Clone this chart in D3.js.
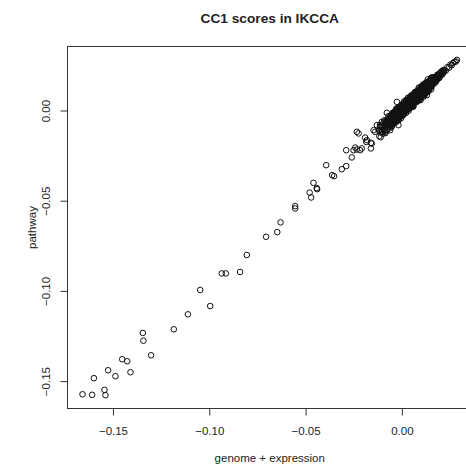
<!DOCTYPE html>
<html>
<head>
<meta charset="utf-8">
<script src="https://cdn.jsdelivr.net/npm/d3@7"></script>
<style>
  html, body { margin: 0; padding: 0; background: #fff; }
  svg { display: block; }
  text { font-family: "Liberation Sans", Arial, Helvetica, sans-serif; fill: #222; }
</style>
</head>
<body>
<svg id="chart" width="466" height="466"></svg>
<script>
// ---- Data ----
const chartTitle = "CC1 scores in IKCCA";
const xLabel = "genome + expression";
const yLabel = "pathway";
const xTicks = [-0.15, -0.10, -0.05, 0.00];
const yTicks = [-0.15, -0.10, -0.05, 0.00];

// sparse tail of the scatter
const tailX = [-0.1658,-0.1608,-0.1544,-0.1539,-0.1599,-0.1525,-0.1487,-0.1452,-0.1426,-0.1409,
  -0.1345,-0.1342,-0.1302,-0.1184,-0.1111,-0.1047,-0.0995,-0.0935,-0.0914,-0.0840,-0.0805,
  -0.0705,-0.0647,-0.0630,-0.0554,-0.0554,-0.0479,-0.0471,-0.0459,-0.0442,-0.0440,
  -0.0393,-0.0362,-0.0352,-0.0312,-0.0289,-0.0289,-0.0260,-0.0251,-0.0234,-0.0217,-0.0208,
  -0.0225,-0.0191,-0.0185,-0.0161,-0.0161,-0.0156,-0.0234,-0.0139,-0.0130,-0.0113,-0.0052,
  -0.0018,-0.0026,-0.0078,-0.0242,-0.0182,-0.0147,-0.0087,-0.0061,0.0130];
const tailY = [-0.1573,-0.1576,-0.1549,-0.1578,-0.1484,-0.1440,-0.1473,-0.1379,-0.1390,-0.1451,
  -0.1233,-0.1276,-0.1357,-0.1213,-0.1130,-0.0995,-0.1084,-0.0903,-0.0903,-0.0895,-0.0801,
  -0.0700,-0.0674,-0.0620,-0.0543,-0.0530,-0.0455,-0.0482,-0.0401,-0.0430,-0.0436,
  -0.0303,-0.0358,-0.0364,-0.0325,-0.0308,-0.0220,-0.0260,-0.0220,-0.0216,-0.0220,-0.0210,
  -0.0127,-0.0150,-0.0174,-0.0210,-0.0179,-0.0183,-0.0118,-0.0118,-0.0081,-0.0091,-0.0087,
  -0.0081,0.0048,-0.0013,-0.0205,-0.0164,-0.0109,-0.0118,-0.0109,0.0085];

// dense core of the scatter, first pass
const coreX1 = [
  -0.0120,-0.0117,-0.0117,-0.0114,-0.0111,-0.0110,-0.0109,-0.0105,-0.0104,-0.0103,
  -0.0099,-0.0098,-0.0096,-0.0095,-0.0091,-0.0091,-0.0088,-0.0085,-0.0085,-0.0082,
  -0.0081,-0.0077,-0.0076,-0.0073,-0.0073,-0.0070,-0.0067,-0.0066,-0.0065,-0.0061,
  -0.0060,-0.0059,-0.0055,-0.0054,-0.0052,-0.0049,-0.0049,-0.0046,-0.0043,-0.0043,
  -0.0039,-0.0039,-0.0036,-0.0033,-0.0032,-0.0031,-0.0027,-0.0027,-0.0024,-0.0022,
  -0.0021,-0.0018,-0.0015,-0.0015,-0.0011,-0.0010,-0.0008,-0.0005,-0.0005,-0.0001,
  0.0000,0.0003,0.0003,0.0007,0.0008,0.0009,0.0012,0.0013,0.0017,0.0018,
  0.0021,0.0022,0.0023,0.0026,0.0029,0.0031,0.0031,0.0034,0.0036,0.0037,
  0.0039,0.0043,0.0044,0.0045,0.0048,0.0051,0.0052,0.0055,0.0055,0.0058,
  0.0060,0.0061,0.0065,0.0067,0.0067,0.0070,0.0073,0.0073,0.0076,0.0079,
  0.0081,0.0082,0.0084,0.0085,0.0088,0.0091,0.0091,0.0095,0.0096,0.0097,
  0.0099,0.0103,0.0103,0.0106,0.0109,0.0110,0.0112,0.0113,0.0117,0.0118,
  0.0120,0.0122,0.0125,0.0125,0.0129,0.0129,0.0133,0.0134,0.0135,0.0139,
  0.0141,0.0141,0.0144,0.0146,0.0147,0.0151,0.0152,0.0155,0.0156,0.0157,
  0.0160,0.0163,0.0163,0.0166,0.0169,0.0169,0.0172,0.0175,0.0175,0.0178,
  0.0179,0.0182,0.0185,0.0185,0.0188,0.0191,0.0191,0.0194,0.0197,0.0198,
  0.0201,0.0201,0.0204,0.0207,0.0207,0.0210,0.0213,0.0213,0.0216,0.0219,0.0220];
const coreY1 = [
  -0.0108,-0.0143,-0.0111,-0.0081,-0.0120,-0.0148,-0.0088,-0.0109,-0.0063,-0.0119,
  -0.0091,-0.0128,-0.0069,-0.0106,-0.0090,-0.0054,-0.0110,-0.0071,-0.0125,-0.0075,
  -0.0085,-0.0054,-0.0109,-0.0056,-0.0082,-0.0031,-0.0069,-0.0093,-0.0053,-0.0032,
  -0.0079,-0.0054,-0.0092,-0.0032,-0.0059,-0.0036,-0.0072,-0.0014,-0.0058,-0.0042,
  -0.0012,-0.0069,-0.0028,-0.0015,-0.0053,0.0007,-0.0039,-0.0030,0.0001,-0.0057,
  -0.0004,-0.0027,0.0018,-0.0013,-0.0038,0.0000,-0.0024,0.0023,-0.0043,0.0004,
  0.0021,-0.0011,0.0007,-0.0023,0.0043,0.0004,0.0025,-0.0006,0.0042,0.0016,
  -0.0014,0.0039,0.0055,0.0011,0.0036,0.0007,0.0070,0.0024,0.0040,0.0010,
  0.0063,0.0041,0.0026,0.0079,0.0059,0.0018,0.0067,0.0047,0.0083,0.0021,
  0.0062,0.0082,0.0052,0.0102,0.0043,0.0079,0.0069,0.0104,0.0057,0.0092,
  0.0050,0.0106,0.0090,0.0072,0.0127,0.0068,0.0092,0.0112,0.0087,0.0058,
  0.0128,0.0112,0.0078,0.0118,0.0103,0.0144,0.0095,0.0117,0.0141,0.0085,
  0.0136,0.0114,0.0155,0.0105,0.0135,0.0128,0.0154,0.0105,0.0173,0.0127,
  0.0145,0.0118,0.0163,0.0147,0.0132,0.0179,0.0117,0.0167,0.0150,0.0184,
  0.0148,0.0167,0.0184,0.0149,0.0177,0.0167,0.0164,0.0187,0.0157,0.0180,
  0.0187,0.0170,0.0199,0.0181,0.0198,0.0182,0.0196,0.0180,0.0207,0.0194,
  0.0206,0.0193,0.0216,0.0203,0.0216,0.0200,0.0217,0.0208,0.0225,0.0216,0.0223];

// dense core, second pass (centre of the cloud)
const coreX2 = [
  -0.0058,-0.0057,-0.0056,-0.0053,-0.0051,-0.0048,-0.0047,-0.0046,-0.0042,-0.0041,
  -0.0039,-0.0038,-0.0035,-0.0032,-0.0032,-0.0029,-0.0026,-0.0025,-0.0023,-0.0022,
  -0.0018,-0.0017,-0.0015,-0.0014,-0.0010,-0.0010,-0.0007,-0.0004,-0.0003,-0.0002,
  0.0000,0.0004,0.0005,0.0007,0.0010,0.0010,0.0013,0.0014,0.0018,0.0019,
  0.0021,0.0023,0.0026,0.0026,0.0029,0.0032,0.0032,0.0035,0.0038,0.0038,
  0.0042,0.0042,0.0045,0.0047,0.0050,0.0051,0.0052,0.0056,0.0056,0.0059,
  0.0060,0.0063,0.0066,0.0067,0.0068,0.0072,0.0073,0.0075,0.0076,0.0080,
  0.0081,0.0084,0.0084,0.0088,0.0089,0.0090,0.0093,0.0096,0.0097,0.0098,
  0.0102,0.0103,0.0105,0.0106,0.0110,0.0111,0.0112,0.0115,0.0118,0.0118,
  0.0120,0.0124,0.0125,0.0127,0.0128,0.0132,0.0133,0.0134,0.0137,0.0140,
  0.0141,0.0142,0.0146,0.0147,0.0149,0.0150,0.0154,0.0155,0.0156,0.0159,0.0162];
const coreY2 = [
  -0.0074,-0.0030,-0.0093,-0.0047,-0.0032,-0.0076,-0.0012,-0.0054,-0.0043,-0.0062,
  -0.0008,-0.0043,-0.0022,-0.0066,-0.0007,-0.0045,-0.0023,0.0013,-0.0051,-0.0010,
  -0.0021,0.0003,-0.0052,0.0016,-0.0022,-0.0002,-0.0031,0.0011,0.0031,-0.0020,
  0.0010,-0.0028,0.0030,0.0003,0.0023,-0.0009,0.0052,0.0002,0.0019,0.0041,
  -0.0005,0.0035,0.0018,0.0060,0.0011,0.0036,0.0060,-0.0001,0.0054,0.0038,
  0.0027,0.0073,0.0053,0.0024,0.0085,0.0041,0.0071,0.0025,0.0060,0.0083,
  0.0023,0.0073,0.0086,0.0061,0.0052,0.0103,0.0046,0.0089,0.0078,0.0067,
  0.0109,0.0062,0.0091,0.0124,0.0081,0.0106,0.0061,0.0115,0.0094,0.0110,
  0.0076,0.0136,0.0093,0.0111,0.0132,0.0076,0.0126,0.0114,0.0147,0.0101,
  0.0129,0.0095,0.0144,0.0118,0.0155,0.0127,0.0144,0.0115,0.0153,0.0141,
  0.0127,0.0164,0.0139,0.0156,0.0127,0.0165,0.0153,0.0144,0.0174,0.0154,0.0168];

// dense core, third pass
const coreX3 = [
  -0.0090,-0.0088,-0.0085,-0.0083,-0.0080,-0.0078,-0.0075,-0.0072,-0.0070,-0.0067,
  -0.0065,-0.0062,-0.0060,-0.0057,-0.0055,-0.0052,-0.0050,-0.0047,-0.0045,-0.0042,
  -0.0040,-0.0037,-0.0035,-0.0032,-0.0030,-0.0027,-0.0025,-0.0022,-0.0020,-0.0017,
  -0.0015,-0.0012,-0.0010,-0.0007,-0.0005,-0.0002,0.0000,0.0003,0.0005,0.0008,
  0.0010,0.0013,0.0015,0.0018,0.0020,0.0023,0.0025,0.0028,0.0030,0.0033,
  0.0035,0.0038,0.0040,0.0043,0.0045,0.0048,0.0050,0.0053,0.0055,0.0058,
  0.0060,0.0063,0.0065,0.0068,0.0070,0.0073,0.0075,0.0078,0.0080,0.0083,
  0.0085,0.0088,0.0090,0.0093,0.0095,0.0098,0.0100,0.0103,0.0105,0.0108,
  0.0110,0.0113,0.0115,0.0118,0.0120,0.0123,0.0125,0.0128,0.0130,0.0133,
  0.0135,0.0138,0.0140,0.0143,0.0145,0.0148,0.0150,0.0153,0.0155,0.0158,
  0.0160,0.0163,0.0165,0.0168,0.0170,0.0173,0.0175,0.0178,0.0180,0.0183,
  0.0185,0.0188,0.0190];
const coreY3 = [
  -0.0110,-0.0074,-0.0088,-0.0056,-0.0108,-0.0072,-0.0056,-0.0084,-0.0046,-0.0074,
  -0.0063,-0.0087,-0.0049,-0.0028,-0.0071,-0.0053,-0.0028,-0.0076,-0.0037,-0.0025,
  -0.0050,-0.0011,-0.0057,-0.0028,-0.0017,-0.0054,0.0005,-0.0027,-0.0038,-0.0008,
  0.0006,-0.0026,-0.0010,0.0018,-0.0029,0.0013,-0.0008,0.0031,-0.0014,0.0013,
  -0.0020,0.0031,0.0022,0.0007,0.0043,0.0021,-0.0001,0.0040,0.0050,0.0018,
  0.0038,0.0065,0.0019,0.0053,0.0039,0.0064,0.0022,0.0077,0.0046,0.0059,
  0.0089,0.0046,0.0071,0.0045,0.0084,0.0094,0.0071,0.0065,0.0106,0.0058,
  0.0096,0.0087,0.0108,0.0064,0.0103,0.0123,0.0088,0.0105,0.0085,0.0130,
  0.0103,0.0129,0.0089,0.0146,0.0124,0.0108,0.0138,0.0125,0.0149,0.0111,
  0.0144,0.0108,0.0163,0.0133,0.0162,0.0148,0.0132,0.0180,0.0149,0.0170,
  0.0148,0.0173,0.0168,0.0161,0.0185,0.0169,0.0183,0.0164,0.0185,0.0185,
  0.0179,0.0199,0.0187];

// dense core, fourth pass
const coreX4 = [
  -0.0069,-0.0066,-0.0063,-0.0061,-0.0058,-0.0056,-0.0053,-0.0051,-0.0048,-0.0046,
  -0.0043,-0.0041,-0.0038,-0.0036,-0.0033,-0.0031,-0.0028,-0.0026,-0.0023,-0.0021,
  -0.0018,-0.0016,-0.0013,-0.0011,-0.0008,-0.0006,-0.0003,-0.0001,0.0002,0.0004,
  0.0007,0.0009,0.0012,0.0014,0.0017,0.0019,0.0022,0.0024,0.0027,0.0029,
  0.0032,0.0034,0.0037,0.0039,0.0042,0.0044,0.0047,0.0049,0.0052,0.0054,
  0.0057,0.0059,0.0062,0.0064,0.0067,0.0069,0.0072,0.0074,0.0077,0.0079,
  0.0082,0.0084,0.0087,0.0089,0.0092,0.0094,0.0097,0.0099,0.0102,0.0104,
  0.0107,0.0109,0.0112,0.0114,0.0117,0.0119,0.0122,0.0124,0.0127,0.0129,
  0.0132,0.0134,0.0137,0.0139,0.0142,0.0144,0.0147,0.0149,0.0152,0.0154];
const coreY4 = [
  -0.0061,-0.0085,-0.0040,-0.0065,-0.0082,-0.0043,-0.0052,-0.0033,-0.0059,-0.0021,
  -0.0058,-0.0035,-0.0060,-0.0020,-0.0035,-0.0011,-0.0037,-0.0051,-0.0012,-0.0017,
  0.0004,-0.0029,-0.0018,0.0013,-0.0026,0.0003,0.0011,-0.0022,0.0004,0.0023,
  0.0000,-0.0014,0.0029,0.0019,0.0003,0.0044,0.0021,0.0014,0.0048,0.0012,
  0.0044,0.0034,0.0017,0.0054,0.0034,0.0068,0.0021,0.0056,0.0070,0.0051,
  0.0045,0.0082,0.0065,0.0045,0.0077,0.0064,0.0092,0.0059,0.0053,0.0093,
  0.0083,0.0101,0.0077,0.0114,0.0070,0.0100,0.0093,0.0118,0.0086,0.0113,
  0.0131,0.0103,0.0094,0.0125,0.0120,0.0094,0.0138,0.0115,0.0148,0.0128,
  0.0118,0.0142,0.0159,0.0119,0.0155,0.0141,0.0136,0.0167,0.0152,0.0131];

// upper tip of the cloud
const tipX = [0.0228,0.0236,0.0245,0.0252,0.0259,0.0266,0.0273,0.0281,0.0286];
const tipY = [0.0221,0.0240,0.0238,0.0255,0.0251,0.0264,0.0270,0.0272,0.0281];

// ---- Build point table ----
function pairs(xs, ys) { return xs.map((v, i) => ({ x: v, y: ys[i] })); }
const points = [].concat(
  pairs(tailX, tailY), pairs(coreX1, coreY1), pairs(coreX2, coreY2),
  pairs(coreX3, coreY3), pairs(coreX4, coreY4), pairs(tipX, tipY));

// ---- Layout ----
const svg = d3.select("#chart");
const plot = { left: 67.5, right: 472, top: 46.5, bottom: 408.5 };

const x = d3.scaleLinear().domain([-0.1736, 0.0364]).range([plot.left, plot.right]);
const y = d3.scaleLinear().domain([-0.1652, 0.0355]).range([plot.bottom, plot.top]);

svg.append("rect").attr("width", 466).attr("height", 466).attr("fill", "#fff");

// points
svg.append("g")
  .selectAll("circle")
  .data(points)
  .join("circle")
  .attr("cx", d => x(d.x))
  .attr("cy", d => y(d.y))
  .attr("r", 2.8)
  .attr("fill", "none")
  .attr("stroke", "#111")
  .attr("stroke-width", 1);

// box
svg.append("rect")
  .attr("x", plot.left).attr("y", plot.top)
  .attr("width", plot.right - plot.left).attr("height", plot.bottom - plot.top)
  .attr("fill", "none").attr("stroke", "#333").attr("stroke-width", 1);

const fmt = d3.format(".2f");

// x axis
const gx = svg.append("g")
  .attr("transform", `translate(0,${plot.bottom})`)
  .attr("color", "#333")
  .call(d3.axisBottom(x).tickValues(xTicks).tickFormat(fmt).tickSize(7).tickPadding(11.2));
gx.select(".domain").remove();
gx.selectAll(".tick text").attr("font-size", "11.5px").attr("fill", "#222")
  .style("font-family", "'Liberation Sans', Arial, sans-serif");

// y axis
const gy = svg.append("g")
  .attr("transform", `translate(${plot.left},0)`)
  .attr("color", "#333")
  .call(d3.axisLeft(y).tickValues(yTicks).tickFormat(fmt).tickSize(7));
gy.select(".domain").remove();
gy.selectAll(".tick text")
  .attr("x", null).attr("dy", null)
  .attr("text-anchor", "middle")
  .attr("transform", "translate(-17.5,0) rotate(-90)")
  .attr("font-size", "11.5px").attr("fill", "#222")
  .style("font-family", "'Liberation Sans', Arial, sans-serif");

// title and axis labels
svg.append("text")
  .attr("x", (plot.left + plot.right) / 2).attr("y", 23.3)
  .attr("text-anchor", "middle")
  .attr("font-size", "13.7px").attr("font-weight", "bold")
  .text(chartTitle);

svg.append("text")
  .attr("x", (plot.left + plot.right) / 2).attr("y", 462)
  .attr("text-anchor", "middle")
  .attr("font-size", "11.5px")
  .text(xLabel);

svg.append("text")
  .attr("transform", `translate(36,${(plot.top + plot.bottom) / 2}) rotate(-90)`)
  .attr("text-anchor", "middle")
  .attr("font-size", "11.5px")
  .text(yLabel);
</script>
</body>
</html>
